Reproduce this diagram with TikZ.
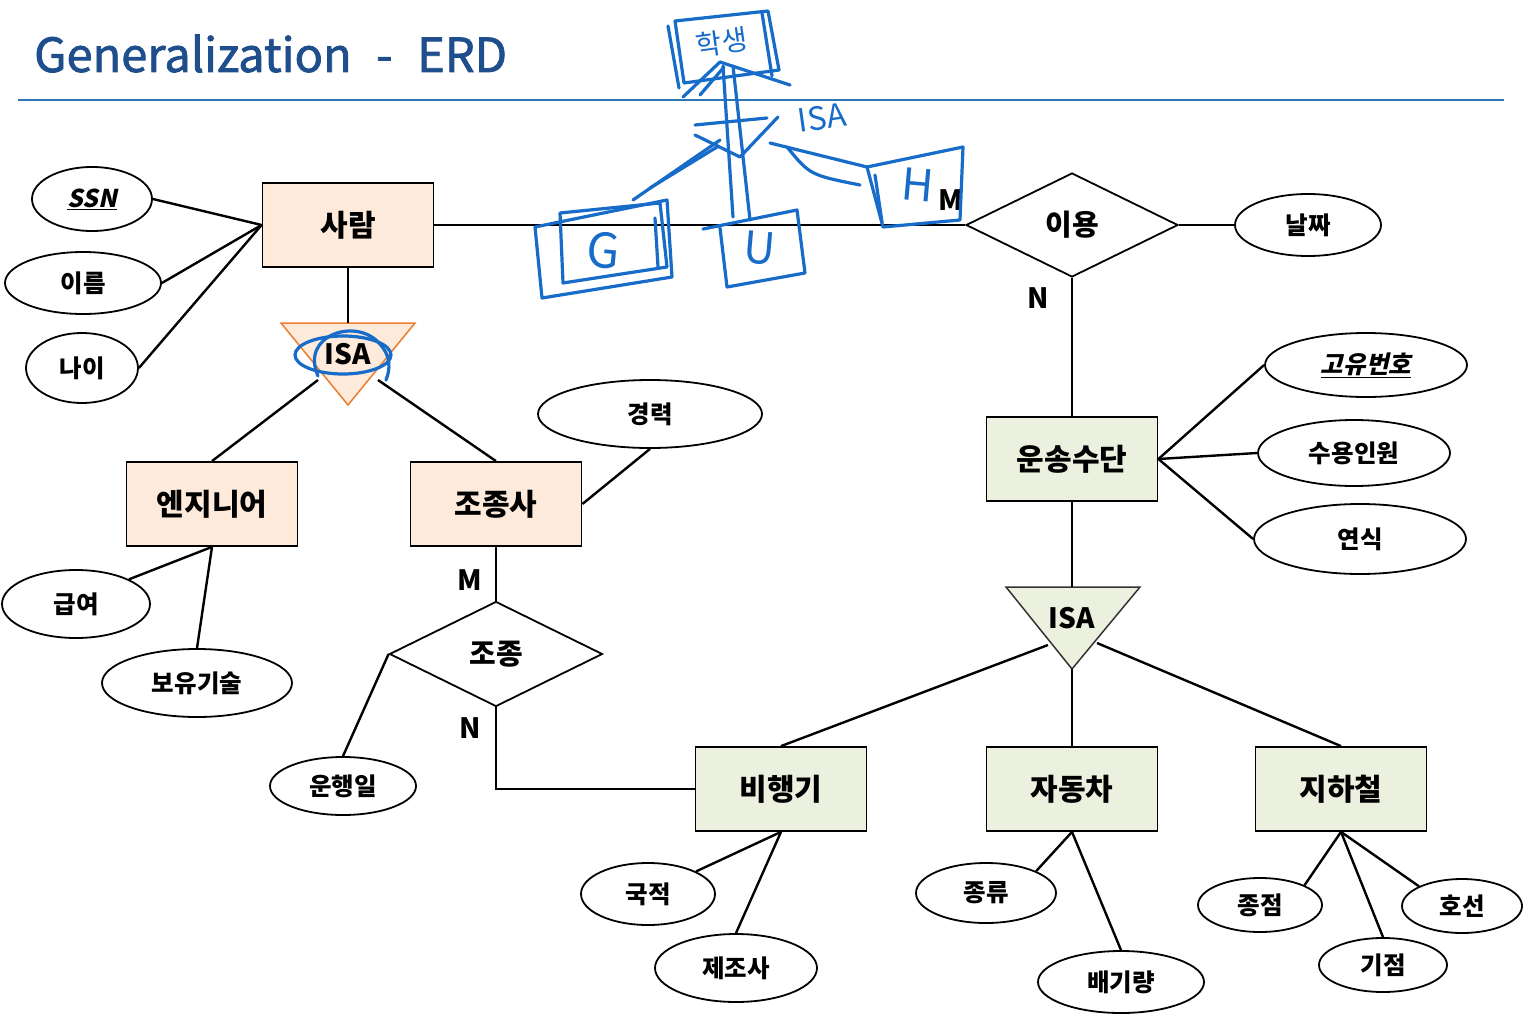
\documentclass[tikz,border=0pt]{standalone}
\usepackage{fontspec}
\setmainfont{Noto Sans CJK KR}
\newfontfamily\krsl[FakeSlant=0.22]{Noto Sans CJK KR}
\newfontfamily\titlefont[FakeBold=1.6]{Noto Sans CJK KR}
\usetikzlibrary{shapes.geometric}
\definecolor{peach}{RGB}{253,234,218}
\definecolor{lgreen}{RGB}{235,241,222}
\definecolor{orng}{RGB}{237,125,49}
\definecolor{titleblue}{RGB}{31,78,140}
\definecolor{rulec}{RGB}{46,117,182}
\definecolor{pen}{RGB}{22,108,200}
\begin{document}
\begin{tikzpicture}[x=1pt,y=-1pt,
  ent/.style={draw, line width=1.8pt, minimum width=171pt, minimum height=84pt, inner sep=0pt, font=\fontsize{30}{32}\selectfont\bfseries},
  attr/.style={draw, ellipse, line width=1.8pt, inner sep=0pt, font=\fontsize{24.5}{27}\selectfont\bfseries},
  rel/.style={draw, diamond, aspect=2, line width=1.8pt, inner sep=0pt, font=\fontsize{29}{31}\selectfont\bfseries},
  conn/.style={line width=2.4pt},
  card/.style={font=\fontsize{28}{30}\selectfont\bfseries},
  isatext/.style={font=\fontsize{28}{30}\selectfont\bfseries},
  hand/.style={draw=pen, line width=3.2pt, line cap=round, line join=round},
  handtext/.style={text=pen, inner sep=0pt},
]
\useasboundingbox (0,0) rectangle (1531,1022);
\fill[white] (0,0) rectangle (1531,1022);

% title
\node[anchor=base west, inner sep=0pt, text=titleblue, font=\titlefont\fontsize{47}{50}\selectfont] (t1) at (34,72) {Generalization};
\node[anchor=base west, inner sep=0pt, text=titleblue, font=\titlefont\fontsize{47}{50}\selectfont] (t2) at (376,72) {-};
\node[anchor=base west, inner sep=0pt, text=titleblue, font=\titlefont\fontsize{47}{50}\selectfont] (t3) at (417,72) {ERD};
\draw[rulec, line width=2pt] (18,100) -- (1504,100);

% 사람
\node[ent, fill=peach] (saram) at (348,225) {사람};
\node[attr, minimum width=120pt, minimum height=64pt] (ssn) at (92,199) {\krsl\bfseries\underline{SSN}};
\node[attr, minimum width=156pt, minimum height=62pt] (ireum) at (83,283) {이름};
\node[attr, minimum width=112pt, minimum height=70pt] (nai) at (82,368) {나이};
\draw[conn] (saram.west) -- (ssn.east);
\draw[conn] (saram.west) -- (ireum.east);
\draw[conn] (saram.west) -- (nai.east);

% ISA 1
\draw[draw=orng, fill=peach, line width=1.5pt] (281,323) -- (415,323) -- (348,405) -- cycle;
\node[isatext] (isa1) at (348,354) {ISA};
\coordinate (isa1t) at (348,323);
\coordinate (isa1l) at (318,380);
\coordinate (isa1r) at (378,380);
\draw[conn] (saram.south) -- (isa1t);

\node[ent, fill=peach] (eng) at (212,504) {엔지니어};
\node[ent, fill=peach] (pilot) at (496,504) {조종사};
\draw[conn] (isa1l) -- (eng.north);
\draw[conn] (isa1r) -- (pilot.north);

\node[attr, minimum width=224pt, minimum height=68pt] (gyeong) at (650,414) {경력};
\draw[conn] (gyeong.south) -- (pilot.east);
\node[attr, minimum width=148pt, minimum height=68pt] (geup) at (76,604) {급여};
\node[attr, minimum width=190pt, minimum height=68pt] (boyu) at (197,683) {보유기술};
\draw[conn] (geup.north east) -- (eng.south);
\draw[conn] (boyu.north) -- (eng.south);

% 조종
\node[rel, minimum width=213pt, minimum height=105pt] (jojong) at (496,654) {조종};
\draw[conn] (pilot.south) -- (jojong.north);
\node[card] (m1) at (470,580) {M};
\node[card] (n1) at (470,728) {N};
\node[attr, minimum width=146pt, minimum height=58pt] (unhaeng) at (343,786) {운행일};
\draw[conn] (unhaeng.north) -- (jojong.west);

% vehicles
\node[ent, fill=lgreen] (plane) at (781,789) {비행기};
\node[ent, fill=lgreen] (car) at (1072,789) {자동차};
\node[ent, fill=lgreen] (subway) at (1341,789) {지하철};
\draw[conn] (jojong.south) |- (plane.west);

\node[ent, fill=lgreen] (unsong) at (1072,459) {운송수단};
\node[rel, minimum width=212pt, minimum height=104pt] (iyong) at (1072,225) {이용};
\node[attr, minimum width=146pt, minimum height=62pt] (nalja) at (1308,225) {날짜};
\draw[conn] (saram.east) -- (iyong.west);
\draw[conn] (iyong.east) -- (nalja.west);
\draw[conn] (iyong.south) -- (unsong.north);
\node[card] (m2) at (951,200) {M};
\node[card] (n2) at (1038,298) {N};

\node[attr, minimum width=202pt, minimum height=64pt] (goyu) at (1366,365) {\krsl\bfseries\underline{고유번호}};
\node[attr, minimum width=192pt, minimum height=66pt] (suyong) at (1354,453) {수용인원};
\node[attr, minimum width=212pt, minimum height=70pt] (yeonsik) at (1360,539) {연식};
\draw[conn] (unsong.east) -- (goyu.west);
\draw[conn] (unsong.east) -- (suyong.west);
\draw[conn] (unsong.east) -- (yeonsik.west);

% ISA 2
\draw[draw=black!80, fill=lgreen, line width=1.5pt] (1006,587) -- (1140,587) -- (1072,669) -- cycle;
\node[isatext] (isa2) at (1072,618) {ISA};
\coordinate (isa2t) at (1072,587);
\coordinate (isa2l) at (1048,645);
\coordinate (isa2b) at (1072,669);
\coordinate (isa2r) at (1097,643);
\draw[conn] (unsong.south) -- (isa2t);
\draw[conn] (isa2l) -- (plane.north);
\draw[conn] (isa2b) -- (car.north);
\draw[conn] (isa2r) -- (subway.north);

% vehicle attributes
\node[attr, minimum width=134pt, minimum height=62pt] (gukjeok) at (648,894) {국적};
\node[attr, minimum width=162pt, minimum height=68pt] (jejo) at (736,968) {제조사};
\draw[conn] (gukjeok.north east) -- (plane.south);
\draw[conn] (jejo.north) -- (plane.south);
\node[attr, minimum width=140pt, minimum height=60pt] (jongryu) at (986,893) {종류};
\node[attr, minimum width=166pt, minimum height=62pt] (baegi) at (1121,982) {배기량};
\draw[conn] (jongryu.north east) -- (car.south);
\draw[conn] (baegi.north) -- (car.south);
\node[attr, minimum width=124pt, minimum height=54pt] (jongjeom) at (1260,905) {종점};
\node[attr, minimum width=128pt, minimum height=54pt] (gijeom) at (1383,965) {기점};
\node[attr, minimum width=120pt, minimum height=54pt] (hoseon) at (1462,906) {호선};
\draw[conn] (jongjeom.north east) -- (subway.south);
\draw[conn] (gijeom.north) -- (subway.south);
\draw[conn] (hoseon.north west) -- (subway.south);

% handwritten annotations
\draw[hand] (343,355) ellipse (48 and 19);
\draw[hand] (318,376) .. controls (300,335) and (355,318) .. (378,342) .. controls (392,356) and (390,370) .. (386,380);

\draw[hand] (675,21) -- (768,11) -- (779,70) -- (684,83) -- cycle;
\draw[hand] (668,26) -- (679,88);
\draw[hand] (762,13) -- (772,76);
\node[handtext, rotate=8, font=\fontsize{28}{30}\selectfont] (hak) at (722,42) {학생};
\draw[hand] (723,66) -- (733,217);
\draw[hand] (733,66) -- (750,220);
\draw[hand] (683,97) -- (720,62) -- (790,85);
\draw[hand] (700,95) -- (724,67);
\draw[hand] (695,125) -- (767,118);
\draw[hand] (695,135) -- (740,157) -- (778,117);
\node[handtext, rotate=8, font=\fontsize{32}{34}\selectfont] (hisa) at (822,118) {ISA};
\draw[hand] (720,140) -- (633,200);
\draw[hand] (717,147) -- (650,188);
\draw[hand] (770,143) -- (867,167);
\draw[hand] (787,147) .. controls (810,175) .. (860,185);

\draw[hand] (535,227) -- (667,200) -- (672,277) -- (542,298) -- cycle;
\draw[hand] (560,213) -- (660,203) -- (667,267) -- (563,283) -- cycle;
\draw[hand] (655,218) -- (658,267);
\node[handtext, rotate=-5, font=\fontsize{48}{50}\selectfont] (hg) at (603,250) {G};

\draw[hand] (703,229) -- (797,210) -- (805,273) -- (727,287) -- (720,228);
\node[handtext, rotate=-5, font=\fontsize{44}{46}\selectfont] (hu) at (760,248) {U};

\draw[hand] (867,167) -- (963,147) -- (960,220) -- (883,227) -- cycle;
\draw[hand] (875,175) -- (882,222);
\node[handtext, rotate=-5, font=\fontsize{44}{46}\selectfont] (hh) at (918,185) {H};
\end{tikzpicture}
\end{document}
